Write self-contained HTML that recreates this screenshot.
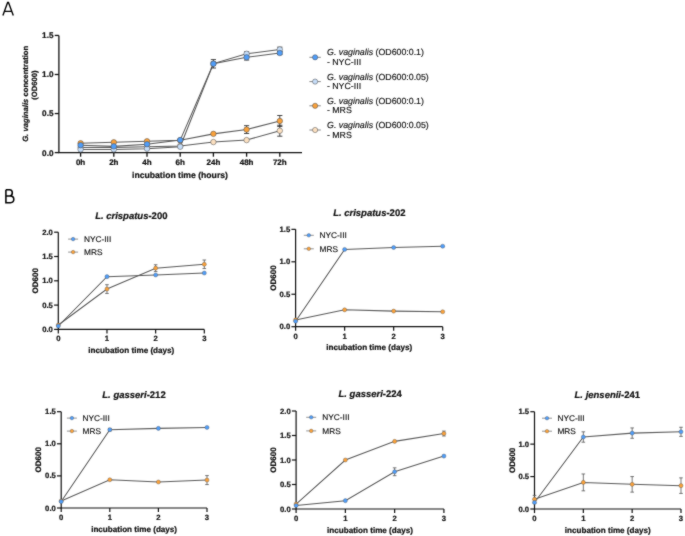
<!DOCTYPE html>
<html><head><meta charset="utf-8"><style>
html,body{margin:0;padding:0;background:#fff;}
body{width:685px;height:536px;overflow:hidden;}
svg{display:block;will-change:transform;}
text{font-family:"Liberation Sans", sans-serif;fill:#111;text-rendering:geometricPrecision;}
.tb{font-weight:bold;stroke:#111;stroke-width:0.22px;}
.tr{font-weight:normal;fill:#111;stroke:#111;stroke-width:0.15px;}
</style></head><body>
<svg width="685" height="536" viewBox="0 0 685 536">
<defs><filter id="soft" x="0" y="0" width="685" height="536" filterUnits="userSpaceOnUse" color-interpolation-filters="sRGB">
<feConvolveMatrix order="3" kernelMatrix="1 2 1 2 20 2 1 2 1" divisor="32.0" edgeMode="duplicate"/>
</filter></defs>
<g filter="url(#soft)">
<rect width="685" height="536" fill="#fff"/>
<path d="M2.9 15.6 L7.6 2.5 L8.5 2.5 L13.3 15.6 M4.6 11.4 L11.7 11.4" fill="none" stroke="#000" stroke-width="1.35" stroke-linejoin="miter"/>
<path d="M5.9 189.75 V202.65 H10.5 C12.7 202.65 13.8 201.3 13.8 199.3 C13.8 197.2 12.5 196.0 10.3 196.0 H5.9 M5.9 189.75 H9.6 C11.4 189.75 12.3 190.8 12.3 192.8 C12.3 194.8 11.2 196.0 9.6 196.0" fill="none" stroke="#000" stroke-width="1.55"/>
<path d="M58.9 35.45 V152.6 H302" fill="none" stroke="#111" stroke-width="1.3"/>
<path d="M54.7 152.6 H58.9" stroke="#111" stroke-width="1.3"/>
<text x="53.5" y="155.5" text-anchor="end" class="tb" font-size="8.2">0.0</text>
<path d="M54.7 113.55 H58.9" stroke="#111" stroke-width="1.3"/>
<text x="53.5" y="116.45" text-anchor="end" class="tb" font-size="8.2">0.5</text>
<path d="M54.7 74.5 H58.9" stroke="#111" stroke-width="1.3"/>
<text x="53.5" y="77.4" text-anchor="end" class="tb" font-size="8.2">1.0</text>
<path d="M54.7 35.45 H58.9" stroke="#111" stroke-width="1.3"/>
<text x="53.5" y="38.35" text-anchor="end" class="tb" font-size="8.2">1.5</text>
<path d="M80.6 152.6 V156.7" stroke="#111" stroke-width="1.3"/>
<text x="80.6" y="165.3" text-anchor="middle" class="tb" font-size="8">0h</text>
<path d="M113.8 152.6 V156.7" stroke="#111" stroke-width="1.3"/>
<text x="113.8" y="165.3" text-anchor="middle" class="tb" font-size="8">2h</text>
<path d="M147 152.6 V156.7" stroke="#111" stroke-width="1.3"/>
<text x="147" y="165.3" text-anchor="middle" class="tb" font-size="8">4h</text>
<path d="M180.2 152.6 V156.7" stroke="#111" stroke-width="1.3"/>
<text x="180.2" y="165.3" text-anchor="middle" class="tb" font-size="8">6h</text>
<path d="M213.4 152.6 V156.7" stroke="#111" stroke-width="1.3"/>
<text x="213.4" y="165.3" text-anchor="middle" class="tb" font-size="8">24h</text>
<path d="M246.6 152.6 V156.7" stroke="#111" stroke-width="1.3"/>
<text x="246.6" y="165.3" text-anchor="middle" class="tb" font-size="8">48h</text>
<path d="M279.8 152.6 V156.7" stroke="#111" stroke-width="1.3"/>
<text x="279.8" y="165.3" text-anchor="middle" class="tb" font-size="8">72h</text>
<text x="180" y="177.5" text-anchor="middle" class="tb" font-size="8.65">incubation time (hours)</text>
<text transform="translate(27.5 93.8) rotate(-90)" text-anchor="middle" class="tb" font-size="7.7"><tspan font-style="italic">G. vaginalis</tspan> concentration</text>
<text transform="translate(36.7 85.1) rotate(-90)" text-anchor="middle" class="tb" font-size="7.6">(OD600)</text>
<polyline points="80.6,147.52 113.8,147.52 147,146.74 180.2,145.96 213.4,142.06 246.6,140.1 279.8,130.73" fill="none" stroke="#5a5a5a" stroke-width="1.05"/>
<polyline points="80.6,149.48 113.8,149.48 147,148.69 180.2,146.74 213.4,63.57 246.6,53.8 279.8,49.51" fill="none" stroke="#5a5a5a" stroke-width="1.05"/>
<polyline points="80.6,143.23 113.8,142.29 147,141.28 180.2,140.26 213.4,133.86 246.6,129.56 279.8,120.97" fill="none" stroke="#5a5a5a" stroke-width="1.05"/>
<polyline points="80.6,145.18 113.8,146.35 147,144.17 180.2,140.1 213.4,63.8 246.6,57.32 279.8,53.02" fill="none" stroke="#5a5a5a" stroke-width="1.05"/>
<path d="M279.8 125.26 V136.2 M277.2 125.26 H282.4 M277.2 136.2 H282.4" stroke="#333" stroke-width="0.9" fill="none"/>
<path d="M213.4 62 V65.13 M210.8 62 H216 M210.8 65.13 H216" stroke="#333" stroke-width="0.9" fill="none"/>
<path d="M246.6 51.85 V55.76 M244 51.85 H249.2 M244 55.76 H249.2" stroke="#333" stroke-width="0.9" fill="none"/>
<path d="M279.8 47.16 V51.85 M277.2 47.16 H282.4 M277.2 51.85 H282.4" stroke="#333" stroke-width="0.9" fill="none"/>
<path d="M246.6 125.66 V133.47 M244 125.66 H249.2 M244 133.47 H249.2" stroke="#333" stroke-width="0.9" fill="none"/>
<path d="M279.8 115.5 V126.44 M277.2 115.5 H282.4 M277.2 126.44 H282.4" stroke="#333" stroke-width="0.9" fill="none"/>
<path d="M213.4 59.58 V68.02 M210.8 59.58 H216 M210.8 68.02 H216" stroke="#333" stroke-width="0.9" fill="none"/>
<path d="M246.6 54.58 V60.05 M244 54.58 H249.2 M244 60.05 H249.2" stroke="#333" stroke-width="0.9" fill="none"/>
<path d="M279.8 51.46 V54.58 M277.2 51.46 H282.4 M277.2 54.58 H282.4" stroke="#333" stroke-width="0.9" fill="none"/>
<circle cx="80.6" cy="147.52" r="2.75" fill="#fce0c0" stroke="#4a4a4a" stroke-width="0.5"/>
<circle cx="113.8" cy="147.52" r="2.75" fill="#fce0c0" stroke="#4a4a4a" stroke-width="0.5"/>
<circle cx="147" cy="146.74" r="2.75" fill="#fce0c0" stroke="#4a4a4a" stroke-width="0.5"/>
<circle cx="180.2" cy="145.96" r="2.75" fill="#fce0c0" stroke="#4a4a4a" stroke-width="0.5"/>
<circle cx="213.4" cy="142.06" r="2.75" fill="#fce0c0" stroke="#4a4a4a" stroke-width="0.5"/>
<circle cx="246.6" cy="140.1" r="2.75" fill="#fce0c0" stroke="#4a4a4a" stroke-width="0.5"/>
<circle cx="279.8" cy="130.73" r="2.75" fill="#fce0c0" stroke="#4a4a4a" stroke-width="0.5"/>
<circle cx="80.6" cy="149.48" r="2.75" fill="#c6ddf8" stroke="#4a4a4a" stroke-width="0.5"/>
<circle cx="113.8" cy="149.48" r="2.75" fill="#c6ddf8" stroke="#4a4a4a" stroke-width="0.5"/>
<circle cx="147" cy="148.69" r="2.75" fill="#c6ddf8" stroke="#4a4a4a" stroke-width="0.5"/>
<circle cx="180.2" cy="146.74" r="2.75" fill="#c6ddf8" stroke="#4a4a4a" stroke-width="0.5"/>
<circle cx="213.4" cy="63.57" r="2.75" fill="#c6ddf8" stroke="#4a4a4a" stroke-width="0.5"/>
<circle cx="246.6" cy="53.8" r="2.75" fill="#c6ddf8" stroke="#4a4a4a" stroke-width="0.5"/>
<circle cx="279.8" cy="49.51" r="2.75" fill="#c6ddf8" stroke="#4a4a4a" stroke-width="0.5"/>
<circle cx="80.6" cy="143.23" r="2.75" fill="#f9a13b" stroke="#4a4a4a" stroke-width="0.5"/>
<circle cx="113.8" cy="142.29" r="2.75" fill="#f9a13b" stroke="#4a4a4a" stroke-width="0.5"/>
<circle cx="147" cy="141.28" r="2.75" fill="#f9a13b" stroke="#4a4a4a" stroke-width="0.5"/>
<circle cx="180.2" cy="140.26" r="2.75" fill="#f9a13b" stroke="#4a4a4a" stroke-width="0.5"/>
<circle cx="213.4" cy="133.86" r="2.75" fill="#f9a13b" stroke="#4a4a4a" stroke-width="0.5"/>
<circle cx="246.6" cy="129.56" r="2.75" fill="#f9a13b" stroke="#4a4a4a" stroke-width="0.5"/>
<circle cx="279.8" cy="120.97" r="2.75" fill="#f9a13b" stroke="#4a4a4a" stroke-width="0.5"/>
<circle cx="80.6" cy="145.18" r="2.75" fill="#509df8" stroke="#4a4a4a" stroke-width="0.5"/>
<circle cx="113.8" cy="146.35" r="2.75" fill="#509df8" stroke="#4a4a4a" stroke-width="0.5"/>
<circle cx="147" cy="144.17" r="2.75" fill="#509df8" stroke="#4a4a4a" stroke-width="0.5"/>
<circle cx="180.2" cy="140.1" r="2.75" fill="#509df8" stroke="#4a4a4a" stroke-width="0.5"/>
<circle cx="213.4" cy="63.8" r="2.75" fill="#509df8" stroke="#4a4a4a" stroke-width="0.5"/>
<circle cx="246.6" cy="57.32" r="2.75" fill="#509df8" stroke="#4a4a4a" stroke-width="0.5"/>
<circle cx="279.8" cy="53.02" r="2.75" fill="#509df8" stroke="#4a4a4a" stroke-width="0.5"/>
<path d="M309.4 57.3 H320.8" stroke="#666" stroke-width="0.8"/>
<circle cx="315.1" cy="57.3" r="2.6" fill="#509df8" stroke="#4a4a4a" stroke-width="0.5"/>
<text x="327.1" y="55.45" class="tr" font-size="8.8"><tspan font-style="italic">G. vaginalis</tspan> (OD600:0.1)</text>
<text x="326.9" y="64.8" class="tr" font-size="8.8">- NYC-III</text>
<path d="M309.4 81.6 H320.8" stroke="#666" stroke-width="0.8"/>
<circle cx="315.1" cy="81.6" r="2.6" fill="#c6ddf8" stroke="#4a4a4a" stroke-width="0.5"/>
<text x="327.1" y="79.75" class="tr" font-size="8.8"><tspan font-style="italic">G. vaginalis</tspan> (OD600:0.05)</text>
<text x="326.9" y="89.1" class="tr" font-size="8.8">- NYC-III</text>
<path d="M309.4 105.8 H320.8" stroke="#666" stroke-width="0.8"/>
<circle cx="315.1" cy="105.8" r="2.6" fill="#f9a13b" stroke="#4a4a4a" stroke-width="0.5"/>
<text x="327.1" y="103.95" class="tr" font-size="8.8"><tspan font-style="italic">G. vaginalis</tspan> (OD600:0.1)</text>
<text x="326.9" y="113.3" class="tr" font-size="8.8">- MRS</text>
<path d="M309.4 130 H320.8" stroke="#666" stroke-width="0.8"/>
<circle cx="315.1" cy="130" r="2.6" fill="#fce0c0" stroke="#4a4a4a" stroke-width="0.5"/>
<text x="327.1" y="128.15" class="tr" font-size="8.8"><tspan font-style="italic">G. vaginalis</tspan> (OD600:0.05)</text>
<text x="326.9" y="137.5" class="tr" font-size="8.8">- MRS</text>
<path d="M58.3 232.2 V329.4 H204.31" fill="none" stroke="#111" stroke-width="1.2"/>
<path d="M54.1 329.4 H58.3" stroke="#111" stroke-width="1.2"/>
<text x="52.9" y="331.9" text-anchor="end" class="tb" font-size="7.7">0.0</text>
<path d="M54.1 305.1 H58.3" stroke="#111" stroke-width="1.2"/>
<text x="52.9" y="307.6" text-anchor="end" class="tb" font-size="7.7">0.5</text>
<path d="M54.1 280.8 H58.3" stroke="#111" stroke-width="1.2"/>
<text x="52.9" y="283.3" text-anchor="end" class="tb" font-size="7.7">1.0</text>
<path d="M54.1 256.5 H58.3" stroke="#111" stroke-width="1.2"/>
<text x="52.9" y="259" text-anchor="end" class="tb" font-size="7.7">1.5</text>
<path d="M54.1 232.2 H58.3" stroke="#111" stroke-width="1.2"/>
<text x="52.9" y="234.7" text-anchor="end" class="tb" font-size="7.7">2.0</text>
<path d="M58.3 329.4 V333.5" stroke="#111" stroke-width="1.2"/>
<text x="58.3" y="341.4" text-anchor="middle" class="tb" font-size="7.7">0</text>
<path d="M106.97 329.4 V333.5" stroke="#111" stroke-width="1.2"/>
<text x="106.97" y="341.4" text-anchor="middle" class="tb" font-size="7.7">1</text>
<path d="M155.64 329.4 V333.5" stroke="#111" stroke-width="1.2"/>
<text x="155.64" y="341.4" text-anchor="middle" class="tb" font-size="7.7">2</text>
<path d="M204.31 329.4 V333.5" stroke="#111" stroke-width="1.2"/>
<text x="204.31" y="341.4" text-anchor="middle" class="tb" font-size="7.7">3</text>
<text x="131.3" y="218.6" text-anchor="middle" class="tb" font-size="9.5"><tspan font-style="italic">L. crispatus</tspan>-200</text>
<text x="131.31" y="352.5" text-anchor="middle" class="tb" font-size="8.1">incubation time (days)</text>
<text transform="translate(38 280.8) rotate(-90)" text-anchor="middle" class="tb" font-size="8">OD600</text>
<path d="M68.1 239.1 H78.1" stroke="#777" stroke-width="0.8"/>
<circle cx="73.1" cy="239.1" r="1.8" fill="#509df8" stroke="#4a4a4a" stroke-width="0.35"/>
<text x="84" y="242" class="tr" font-size="8.3">NYC-III</text>
<path d="M68.1 252.1 H78.1" stroke="#777" stroke-width="0.8"/>
<circle cx="73.1" cy="252.1" r="1.8" fill="#f9a13b" stroke="#4a4a4a" stroke-width="0.35"/>
<text x="84" y="255" class="tr" font-size="8.3">MRS</text>
<polyline points="58.3,325.03 106.97,289.06 155.64,268.16 204.31,264.28" fill="none" stroke="#5a5a5a" stroke-width="1.05"/>
<polyline points="58.3,326 106.97,276.67 155.64,274.97 204.31,273.02" fill="none" stroke="#5a5a5a" stroke-width="1.05"/>
<path d="M106.97 284.69 V293.44 M105.17 284.69 H108.77 M105.17 293.44 H108.77" stroke="#555" stroke-width="0.8" fill="none"/>
<path d="M155.64 264.76 V271.57 M153.84 264.76 H157.44 M153.84 271.57 H157.44" stroke="#555" stroke-width="0.8" fill="none"/>
<path d="M204.31 260 V268.55 M202.51 260 H206.11 M202.51 268.55 H206.11" stroke="#555" stroke-width="0.8" fill="none"/>
<circle cx="58.3" cy="325.03" r="2.05" fill="#f9a13b" stroke="#4a4a4a" stroke-width="0.35"/>
<circle cx="106.97" cy="289.06" r="2.05" fill="#f9a13b" stroke="#4a4a4a" stroke-width="0.35"/>
<circle cx="155.64" cy="268.16" r="2.05" fill="#f9a13b" stroke="#4a4a4a" stroke-width="0.35"/>
<circle cx="204.31" cy="264.28" r="2.05" fill="#f9a13b" stroke="#4a4a4a" stroke-width="0.35"/>
<circle cx="58.3" cy="326" r="2.05" fill="#509df8" stroke="#4a4a4a" stroke-width="0.35"/>
<circle cx="106.97" cy="276.67" r="2.05" fill="#509df8" stroke="#4a4a4a" stroke-width="0.35"/>
<circle cx="155.64" cy="274.97" r="2.05" fill="#509df8" stroke="#4a4a4a" stroke-width="0.35"/>
<circle cx="204.31" cy="273.02" r="2.05" fill="#509df8" stroke="#4a4a4a" stroke-width="0.35"/>
<path d="M295.6 229.35 V326.7 H442.69" fill="none" stroke="#111" stroke-width="1.2"/>
<path d="M291.4 326.7 H295.6" stroke="#111" stroke-width="1.2"/>
<text x="290.2" y="329.2" text-anchor="end" class="tb" font-size="7.7">0.0</text>
<path d="M291.4 294.25 H295.6" stroke="#111" stroke-width="1.2"/>
<text x="290.2" y="296.75" text-anchor="end" class="tb" font-size="7.7">0.5</text>
<path d="M291.4 261.8 H295.6" stroke="#111" stroke-width="1.2"/>
<text x="290.2" y="264.3" text-anchor="end" class="tb" font-size="7.7">1.0</text>
<path d="M291.4 229.35 H295.6" stroke="#111" stroke-width="1.2"/>
<text x="290.2" y="231.85" text-anchor="end" class="tb" font-size="7.7">1.5</text>
<path d="M295.6 326.7 V330.8" stroke="#111" stroke-width="1.2"/>
<text x="295.6" y="338.7" text-anchor="middle" class="tb" font-size="7.7">0</text>
<path d="M344.63 326.7 V330.8" stroke="#111" stroke-width="1.2"/>
<text x="344.63" y="338.7" text-anchor="middle" class="tb" font-size="7.7">1</text>
<path d="M393.66 326.7 V330.8" stroke="#111" stroke-width="1.2"/>
<text x="393.66" y="338.7" text-anchor="middle" class="tb" font-size="7.7">2</text>
<path d="M442.69 326.7 V330.8" stroke="#111" stroke-width="1.2"/>
<text x="442.69" y="338.7" text-anchor="middle" class="tb" font-size="7.7">3</text>
<text x="369.3" y="216.1" text-anchor="middle" class="tb" font-size="9.5"><tspan font-style="italic">L. crispatus</tspan>-202</text>
<text x="369.15" y="350.2" text-anchor="middle" class="tb" font-size="8.1">incubation time (days)</text>
<text transform="translate(275.5 278.02) rotate(-90)" text-anchor="middle" class="tb" font-size="8">OD600</text>
<path d="M303.8 235.3 H313.8" stroke="#777" stroke-width="0.8"/>
<circle cx="308.8" cy="235.3" r="1.8" fill="#509df8" stroke="#4a4a4a" stroke-width="0.35"/>
<text x="319.6" y="238.2" class="tr" font-size="8.3">NYC-III</text>
<path d="M303.8 248.8 H313.8" stroke="#777" stroke-width="0.8"/>
<circle cx="308.8" cy="248.8" r="1.8" fill="#f9a13b" stroke="#4a4a4a" stroke-width="0.35"/>
<text x="319.6" y="251.7" class="tr" font-size="8.3">MRS</text>
<polyline points="295.6,319.89 344.63,309.83 393.66,311.12 442.69,311.77" fill="none" stroke="#5a5a5a" stroke-width="1.05"/>
<polyline points="295.6,321.18 344.63,249.47 393.66,247.52 442.69,246.22" fill="none" stroke="#5a5a5a" stroke-width="1.05"/>
<circle cx="295.6" cy="319.89" r="2.05" fill="#f9a13b" stroke="#4a4a4a" stroke-width="0.35"/>
<circle cx="344.63" cy="309.83" r="2.05" fill="#f9a13b" stroke="#4a4a4a" stroke-width="0.35"/>
<circle cx="393.66" cy="311.12" r="2.05" fill="#f9a13b" stroke="#4a4a4a" stroke-width="0.35"/>
<circle cx="442.69" cy="311.77" r="2.05" fill="#f9a13b" stroke="#4a4a4a" stroke-width="0.35"/>
<circle cx="295.6" cy="321.18" r="2.05" fill="#509df8" stroke="#4a4a4a" stroke-width="0.35"/>
<circle cx="344.63" cy="249.47" r="2.05" fill="#509df8" stroke="#4a4a4a" stroke-width="0.35"/>
<circle cx="393.66" cy="247.52" r="2.05" fill="#509df8" stroke="#4a4a4a" stroke-width="0.35"/>
<circle cx="442.69" cy="246.22" r="2.05" fill="#509df8" stroke="#4a4a4a" stroke-width="0.35"/>
<path d="M61.2 411.7 V508 H207" fill="none" stroke="#111" stroke-width="1.2"/>
<path d="M57 508 H61.2" stroke="#111" stroke-width="1.2"/>
<text x="55.8" y="510.5" text-anchor="end" class="tb" font-size="7.7">0.0</text>
<path d="M57 475.9 H61.2" stroke="#111" stroke-width="1.2"/>
<text x="55.8" y="478.4" text-anchor="end" class="tb" font-size="7.7">0.5</text>
<path d="M57 443.8 H61.2" stroke="#111" stroke-width="1.2"/>
<text x="55.8" y="446.3" text-anchor="end" class="tb" font-size="7.7">1.0</text>
<path d="M57 411.7 H61.2" stroke="#111" stroke-width="1.2"/>
<text x="55.8" y="414.2" text-anchor="end" class="tb" font-size="7.7">1.5</text>
<path d="M61.2 508 V512.1" stroke="#111" stroke-width="1.2"/>
<text x="61.2" y="520" text-anchor="middle" class="tb" font-size="7.7">0</text>
<path d="M109.8 508 V512.1" stroke="#111" stroke-width="1.2"/>
<text x="109.8" y="520" text-anchor="middle" class="tb" font-size="7.7">1</text>
<path d="M158.4 508 V512.1" stroke="#111" stroke-width="1.2"/>
<text x="158.4" y="520" text-anchor="middle" class="tb" font-size="7.7">2</text>
<path d="M207 508 V512.1" stroke="#111" stroke-width="1.2"/>
<text x="207" y="520" text-anchor="middle" class="tb" font-size="7.7">3</text>
<text x="134" y="398" text-anchor="middle" class="tb" font-size="9.5"><tspan font-style="italic">L. gasseri</tspan>-212</text>
<text x="134.1" y="531.9" text-anchor="middle" class="tb" font-size="8.1">incubation time (days)</text>
<text transform="translate(41.1 459.85) rotate(-90)" text-anchor="middle" class="tb" font-size="8">OD600</text>
<path d="M66.9 418.1 H76.9" stroke="#777" stroke-width="0.8"/>
<circle cx="71.9" cy="418.1" r="1.8" fill="#509df8" stroke="#4a4a4a" stroke-width="0.35"/>
<text x="82.5" y="421" class="tr" font-size="8.3">NYC-III</text>
<path d="M66.9 431.1 H76.9" stroke="#777" stroke-width="0.8"/>
<circle cx="71.9" cy="431.1" r="1.8" fill="#f9a13b" stroke="#4a4a4a" stroke-width="0.35"/>
<text x="82.5" y="434" class="tr" font-size="8.3">MRS</text>
<polyline points="61.2,500.94 109.8,479.75 158.4,482 207,480.07" fill="none" stroke="#5a5a5a" stroke-width="1.05"/>
<polyline points="61.2,501.58 109.8,429.68 158.4,428.39 207,427.43" fill="none" stroke="#5a5a5a" stroke-width="1.05"/>
<path d="M207 475.58 V484.57 M205.2 475.58 H208.8 M205.2 484.57 H208.8" stroke="#555" stroke-width="0.8" fill="none"/>
<path d="M109.8 428.39 V430.96 M108 428.39 H111.6 M108 430.96 H111.6" stroke="#555" stroke-width="0.8" fill="none"/>
<circle cx="61.2" cy="500.94" r="2.05" fill="#f9a13b" stroke="#4a4a4a" stroke-width="0.35"/>
<circle cx="109.8" cy="479.75" r="2.05" fill="#f9a13b" stroke="#4a4a4a" stroke-width="0.35"/>
<circle cx="158.4" cy="482" r="2.05" fill="#f9a13b" stroke="#4a4a4a" stroke-width="0.35"/>
<circle cx="207" cy="480.07" r="2.05" fill="#f9a13b" stroke="#4a4a4a" stroke-width="0.35"/>
<circle cx="61.2" cy="501.58" r="2.05" fill="#509df8" stroke="#4a4a4a" stroke-width="0.35"/>
<circle cx="109.8" cy="429.68" r="2.05" fill="#509df8" stroke="#4a4a4a" stroke-width="0.35"/>
<circle cx="158.4" cy="428.39" r="2.05" fill="#509df8" stroke="#4a4a4a" stroke-width="0.35"/>
<circle cx="207" cy="427.43" r="2.05" fill="#509df8" stroke="#4a4a4a" stroke-width="0.35"/>
<path d="M296.1 411 V509 H443.91" fill="none" stroke="#111" stroke-width="1.2"/>
<path d="M291.9 509 H296.1" stroke="#111" stroke-width="1.2"/>
<text x="290.7" y="511.5" text-anchor="end" class="tb" font-size="7.7">0.0</text>
<path d="M291.9 484.5 H296.1" stroke="#111" stroke-width="1.2"/>
<text x="290.7" y="487" text-anchor="end" class="tb" font-size="7.7">0.5</text>
<path d="M291.9 460 H296.1" stroke="#111" stroke-width="1.2"/>
<text x="290.7" y="462.5" text-anchor="end" class="tb" font-size="7.7">1.0</text>
<path d="M291.9 435.5 H296.1" stroke="#111" stroke-width="1.2"/>
<text x="290.7" y="438" text-anchor="end" class="tb" font-size="7.7">1.5</text>
<path d="M291.9 411 H296.1" stroke="#111" stroke-width="1.2"/>
<text x="290.7" y="413.5" text-anchor="end" class="tb" font-size="7.7">2.0</text>
<path d="M296.1 509 V513.1" stroke="#111" stroke-width="1.2"/>
<text x="296.1" y="521" text-anchor="middle" class="tb" font-size="7.7">0</text>
<path d="M345.37 509 V513.1" stroke="#111" stroke-width="1.2"/>
<text x="345.37" y="521" text-anchor="middle" class="tb" font-size="7.7">1</text>
<path d="M394.64 509 V513.1" stroke="#111" stroke-width="1.2"/>
<text x="394.64" y="521" text-anchor="middle" class="tb" font-size="7.7">2</text>
<path d="M443.91 509 V513.1" stroke="#111" stroke-width="1.2"/>
<text x="443.91" y="521" text-anchor="middle" class="tb" font-size="7.7">3</text>
<text x="370.2" y="396.9" text-anchor="middle" class="tb" font-size="9.5"><tspan font-style="italic">L. gasseri</tspan>-224</text>
<text x="370" y="533" text-anchor="middle" class="tb" font-size="8.1">incubation time (days)</text>
<text transform="translate(276.2 460) rotate(-90)" text-anchor="middle" class="tb" font-size="8">OD600</text>
<path d="M306.2 417.3 H316.2" stroke="#777" stroke-width="0.8"/>
<circle cx="311.2" cy="417.3" r="1.8" fill="#509df8" stroke="#4a4a4a" stroke-width="0.35"/>
<text x="322.3" y="420.2" class="tr" font-size="8.3">NYC-III</text>
<path d="M306.2 430.9 H316.2" stroke="#777" stroke-width="0.8"/>
<circle cx="311.2" cy="430.9" r="1.8" fill="#f9a13b" stroke="#4a4a4a" stroke-width="0.35"/>
<text x="322.3" y="433.8" class="tr" font-size="8.3">MRS</text>
<polyline points="296.1,504.1 345.37,460 394.64,441.38 443.91,433.54" fill="none" stroke="#5a5a5a" stroke-width="1.05"/>
<polyline points="296.1,505.57 345.37,500.67 394.64,471.76 443.91,456.08" fill="none" stroke="#5a5a5a" stroke-width="1.05"/>
<path d="M443.91 431.09 V435.99 M442.11 431.09 H445.71 M442.11 435.99 H445.71" stroke="#555" stroke-width="0.8" fill="none"/>
<path d="M394.64 467.84 V475.68 M392.84 467.84 H396.44 M392.84 475.68 H396.44" stroke="#555" stroke-width="0.8" fill="none"/>
<circle cx="296.1" cy="504.1" r="2.05" fill="#f9a13b" stroke="#4a4a4a" stroke-width="0.35"/>
<circle cx="345.37" cy="460" r="2.05" fill="#f9a13b" stroke="#4a4a4a" stroke-width="0.35"/>
<circle cx="394.64" cy="441.38" r="2.05" fill="#f9a13b" stroke="#4a4a4a" stroke-width="0.35"/>
<circle cx="443.91" cy="433.54" r="2.05" fill="#f9a13b" stroke="#4a4a4a" stroke-width="0.35"/>
<circle cx="296.1" cy="505.57" r="2.05" fill="#509df8" stroke="#4a4a4a" stroke-width="0.35"/>
<circle cx="345.37" cy="500.67" r="2.05" fill="#509df8" stroke="#4a4a4a" stroke-width="0.35"/>
<circle cx="394.64" cy="471.76" r="2.05" fill="#509df8" stroke="#4a4a4a" stroke-width="0.35"/>
<circle cx="443.91" cy="456.08" r="2.05" fill="#509df8" stroke="#4a4a4a" stroke-width="0.35"/>
<path d="M534.5 411.71 V509 H680.99" fill="none" stroke="#111" stroke-width="1.2"/>
<path d="M530.3 509 H534.5" stroke="#111" stroke-width="1.2"/>
<text x="529.1" y="511.5" text-anchor="end" class="tb" font-size="7.7">0.0</text>
<path d="M530.3 476.57 H534.5" stroke="#111" stroke-width="1.2"/>
<text x="529.1" y="479.07" text-anchor="end" class="tb" font-size="7.7">0.5</text>
<path d="M530.3 444.14 H534.5" stroke="#111" stroke-width="1.2"/>
<text x="529.1" y="446.64" text-anchor="end" class="tb" font-size="7.7">1.0</text>
<path d="M530.3 411.71 H534.5" stroke="#111" stroke-width="1.2"/>
<text x="529.1" y="414.21" text-anchor="end" class="tb" font-size="7.7">1.5</text>
<path d="M534.5 509 V513.1" stroke="#111" stroke-width="1.2"/>
<text x="534.5" y="521" text-anchor="middle" class="tb" font-size="7.7">0</text>
<path d="M583.33 509 V513.1" stroke="#111" stroke-width="1.2"/>
<text x="583.33" y="521" text-anchor="middle" class="tb" font-size="7.7">1</text>
<path d="M632.16 509 V513.1" stroke="#111" stroke-width="1.2"/>
<text x="632.16" y="521" text-anchor="middle" class="tb" font-size="7.7">2</text>
<path d="M680.99 509 V513.1" stroke="#111" stroke-width="1.2"/>
<text x="680.99" y="521" text-anchor="middle" class="tb" font-size="7.7">3</text>
<text x="607.3" y="398.1" text-anchor="middle" class="tb" font-size="9.5"><tspan font-style="italic">L. jensenii</tspan>-241</text>
<text x="607.75" y="532.7" text-anchor="middle" class="tb" font-size="8.1">incubation time (days)</text>
<text transform="translate(515.2 460.36) rotate(-90)" text-anchor="middle" class="tb" font-size="8">OD600</text>
<path d="M542 418.2 H552" stroke="#777" stroke-width="0.8"/>
<circle cx="547" cy="418.2" r="1.8" fill="#509df8" stroke="#4a4a4a" stroke-width="0.35"/>
<text x="557.4" y="421.1" class="tr" font-size="8.3">NYC-III</text>
<path d="M542 431.2 H552" stroke="#777" stroke-width="0.8"/>
<circle cx="547" cy="431.2" r="1.8" fill="#f9a13b" stroke="#4a4a4a" stroke-width="0.35"/>
<text x="557.4" y="434.1" class="tr" font-size="8.3">MRS</text>
<polyline points="534.5,499.27 583.33,482.41 632.16,484.35 680.99,485.65" fill="none" stroke="#5a5a5a" stroke-width="1.05"/>
<polyline points="534.5,502.51 583.33,437.01 632.16,433.11 680.99,431.82" fill="none" stroke="#5a5a5a" stroke-width="1.05"/>
<path d="M534.5 495.38 V503.16 M532.7 495.38 H536.3 M532.7 503.16 H536.3" stroke="#555" stroke-width="0.8" fill="none"/>
<path d="M583.33 473.98 V490.84 M581.53 473.98 H585.13 M581.53 490.84 H585.13" stroke="#555" stroke-width="0.8" fill="none"/>
<path d="M632.16 476.57 V492.14 M630.36 476.57 H633.96 M630.36 492.14 H633.96" stroke="#555" stroke-width="0.8" fill="none"/>
<path d="M680.99 477.87 V493.43 M679.19 477.87 H682.79 M679.19 493.43 H682.79" stroke="#555" stroke-width="0.8" fill="none"/>
<path d="M583.33 431.82 V442.19 M581.53 431.82 H585.13 M581.53 442.19 H585.13" stroke="#555" stroke-width="0.8" fill="none"/>
<path d="M632.16 427.93 V438.3 M630.36 427.93 H633.96 M630.36 438.3 H633.96" stroke="#555" stroke-width="0.8" fill="none"/>
<path d="M680.99 427.28 V436.36 M679.19 427.28 H682.79 M679.19 436.36 H682.79" stroke="#555" stroke-width="0.8" fill="none"/>
<circle cx="534.5" cy="499.27" r="2.05" fill="#f9a13b" stroke="#4a4a4a" stroke-width="0.35"/>
<circle cx="583.33" cy="482.41" r="2.05" fill="#f9a13b" stroke="#4a4a4a" stroke-width="0.35"/>
<circle cx="632.16" cy="484.35" r="2.05" fill="#f9a13b" stroke="#4a4a4a" stroke-width="0.35"/>
<circle cx="680.99" cy="485.65" r="2.05" fill="#f9a13b" stroke="#4a4a4a" stroke-width="0.35"/>
<circle cx="534.5" cy="502.51" r="2.05" fill="#509df8" stroke="#4a4a4a" stroke-width="0.35"/>
<circle cx="583.33" cy="437.01" r="2.05" fill="#509df8" stroke="#4a4a4a" stroke-width="0.35"/>
<circle cx="632.16" cy="433.11" r="2.05" fill="#509df8" stroke="#4a4a4a" stroke-width="0.35"/>
<circle cx="680.99" cy="431.82" r="2.05" fill="#509df8" stroke="#4a4a4a" stroke-width="0.35"/>
</g>
</svg>
</body></html>
